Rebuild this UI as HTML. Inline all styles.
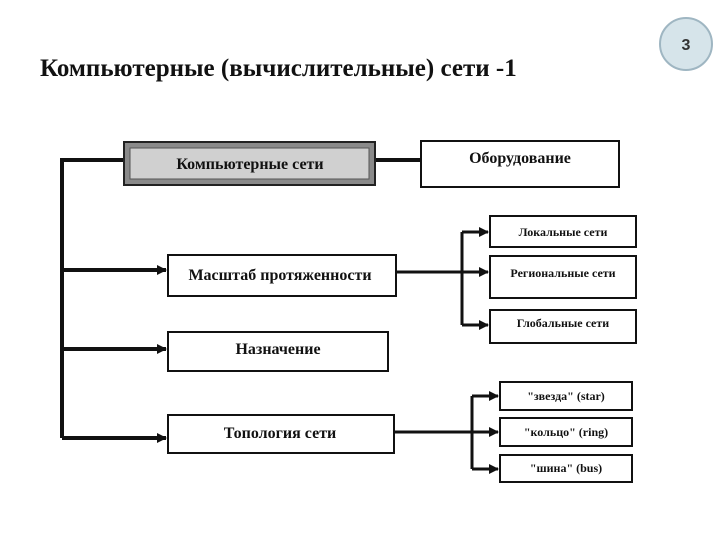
<!DOCTYPE html>
<html><head><meta charset="utf-8"><style>
body{margin:0;background:#fff;width:720px;height:540px;overflow:hidden;font-family:"Liberation Serif",serif}
</style></head><body>
<svg width="720" height="540" xmlns="http://www.w3.org/2000/svg" font-family="Liberation Serif, serif">
<defs><marker id="a" markerWidth="10" markerHeight="10" refX="9" refY="5" orient="auto" markerUnits="userSpaceOnUse"><path d="M0,0 L10,5 L0,10 z" fill="#111"/></marker></defs>
<circle cx="686" cy="44" r="26" fill="#d6e4ea" stroke="#9fb6c2" stroke-width="2"/>
<text x="686" y="50" font-family="Liberation Sans, sans-serif" font-size="16" font-weight="bold" text-anchor="middle" fill="#333">3</text>
<text x="40" y="76" font-size="25" font-weight="bold" fill="#111">Компьютерные (вычислительные) сети -1</text>
<g stroke="#111" stroke-width="4" fill="none">
<path d="M62 438 V160 H123"/>
<path d="M376 160 H421"/>
<path d="M62 270 H166" marker-end="url(#a)"/>
<path d="M62 349 H166" marker-end="url(#a)"/>
<path d="M62 438 H166" marker-end="url(#a)"/>
</g>
<g stroke="#111" stroke-width="3" fill="none">
<path d="M396 272 H488" marker-end="url(#a)"/>
<path d="M462 232 V325"/>
<path d="M462 232 H488" marker-end="url(#a)"/>
<path d="M462 325 H488" marker-end="url(#a)"/>
<path d="M394 432 H498" marker-end="url(#a)"/>
<path d="M472 396 V469"/>
<path d="M472 396 H498" marker-end="url(#a)"/>
<path d="M472 469 H498" marker-end="url(#a)"/>
</g>
<rect x="124" y="142" width="251" height="43" fill="#8a8a8a" stroke="#222" stroke-width="2"/>
<rect x="130" y="148" width="239" height="31" fill="#d0d0d0" stroke="#555" stroke-width="1"/>
<g fill="#fff" stroke="#111" stroke-width="2">
<rect x="421" y="141" width="198" height="46"/>
<rect x="168" y="255" width="228" height="41"/>
<rect x="168" y="332" width="220" height="39"/>
<rect x="168" y="415" width="226" height="38"/>
<rect x="490" y="216" width="146" height="31"/>
<rect x="490" y="256" width="146" height="42"/>
<rect x="490" y="310" width="146" height="33"/>
<rect x="500" y="382" width="132" height="28"/>
<rect x="500" y="418" width="132" height="28"/>
<rect x="500" y="455" width="132" height="27"/>
</g>
<g fill="#111" text-anchor="middle" font-size="16" font-weight="bold">
<text x="250" y="169">Компьютерные сети</text>
<text x="520" y="163">Оборудование</text>
<text x="280" y="280">Масштаб протяженности</text>
<text x="278" y="354">Назначение</text>
<text x="280" y="438">Топология сети</text>
<g font-size="12">
<text x="563" y="236">Локальные сети</text>
<text x="563" y="277">Региональные сети</text>
<text x="563" y="327">Глобальные сети</text>
<text x="566" y="400">"звезда" (star)</text>
<text x="566" y="436">"кольцо" (ring)</text>
<text x="566" y="472">"шина" (bus)</text>
</g></g>
</svg>
</body></html>
